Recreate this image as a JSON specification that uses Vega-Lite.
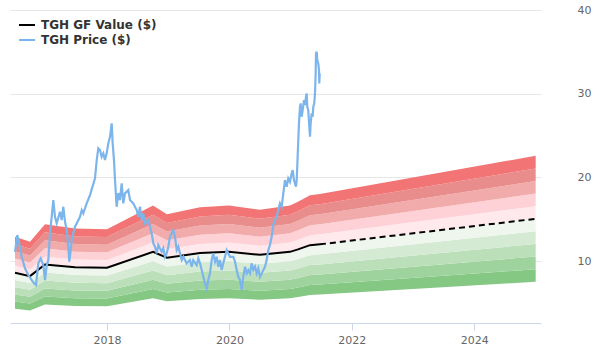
{
  "$schema": "https://vega.github.io/schema/vega-lite/v6.json",
  "width": 531,
  "height": 313,
  "autosize": {"type": "none"},
  "padding": {"left": 10, "top": 10, "right": 59, "bottom": 37},
  "background": "#ffffff",
  "config": {
    "view": {"stroke": null},
    "font": "DejaVu Sans",
    "legend": {"labelFontWeight": "bold", "labelFontSize": 12, "labelColor": "#333333", "labelFont": "DejaVu Sans", "rowPadding": 0, "labelOffset": 5, "symbolStrokeWidth": 2, "symbolSize": 256, "symbolType": "stroke", "padding": 0}
  },
  "datasets": {
    "gf": [
      {"t": 2016.497, "gf": 8.6, "b50": 4.30, "b60": 5.16, "b70": 6.02, "b80": 6.88, "b90": 7.74, "b110": 9.46, "b120": 10.32, "b130": 11.18, "b140": 12.04, "b150": 12.90},
      {"t": 2016.742, "gf": 8.2, "b50": 4.10, "b60": 4.92, "b70": 5.74, "b80": 6.56, "b90": 7.38, "b110": 9.02, "b120": 9.84, "b130": 10.66, "b140": 11.48, "b150": 12.30},
      {"t": 2016.987, "gf": 9.6, "b50": 4.80, "b60": 5.76, "b70": 6.72, "b80": 7.68, "b90": 8.64, "b110": 10.56, "b120": 11.52, "b130": 12.48, "b140": 13.44, "b150": 14.40},
      {"t": 2017.477, "gf": 9.25, "b50": 4.63, "b60": 5.55, "b70": 6.48, "b80": 7.40, "b90": 8.33, "b110": 10.18, "b120": 11.10, "b130": 12.03, "b140": 12.95, "b150": 13.88},
      {"t": 2018.0, "gf": 9.2, "b50": 4.60, "b60": 5.52, "b70": 6.44, "b80": 7.36, "b90": 8.28, "b110": 10.12, "b120": 11.04, "b130": 11.96, "b140": 12.88, "b150": 13.80},
      {"t": 2018.752, "gf": 11.1, "b50": 5.55, "b60": 6.66, "b70": 7.77, "b80": 8.88, "b90": 9.99, "b110": 12.21, "b120": 13.32, "b130": 14.43, "b140": 15.54, "b150": 16.65},
      {"t": 2018.98, "gf": 10.4, "b50": 5.20, "b60": 6.24, "b70": 7.28, "b80": 8.32, "b90": 9.36, "b110": 11.44, "b120": 12.48, "b130": 13.52, "b140": 14.56, "b150": 15.60},
      {"t": 2019.52, "gf": 10.95, "b50": 5.48, "b60": 6.57, "b70": 7.67, "b80": 8.76, "b90": 9.86, "b110": 12.05, "b120": 13.14, "b130": 14.24, "b140": 15.33, "b150": 16.43},
      {"t": 2019.993, "gf": 11.1, "b50": 5.55, "b60": 6.66, "b70": 7.77, "b80": 8.88, "b90": 9.99, "b110": 12.21, "b120": 13.32, "b130": 14.43, "b140": 15.54, "b150": 16.65},
      {"t": 2020.5, "gf": 10.75, "b50": 5.38, "b60": 6.45, "b70": 7.53, "b80": 8.60, "b90": 9.68, "b110": 11.83, "b120": 12.90, "b130": 13.98, "b140": 15.05, "b150": 16.13},
      {"t": 2020.99, "gf": 11.1, "b50": 5.55, "b60": 6.66, "b70": 7.77, "b80": 8.88, "b90": 9.99, "b110": 12.21, "b120": 13.32, "b130": 14.43, "b140": 15.54, "b150": 16.65},
      {"t": 2021.121, "gf": 11.4, "b50": 5.70, "b60": 6.84, "b70": 7.98, "b80": 9.12, "b90": 10.26, "b110": 12.54, "b120": 13.68, "b130": 14.82, "b140": 15.96, "b150": 17.10},
      {"t": 2021.317, "gf": 11.9, "b50": 5.95, "b60": 7.14, "b70": 8.33, "b80": 9.52, "b90": 10.71, "b110": 13.09, "b120": 14.28, "b130": 15.47, "b140": 16.66, "b150": 17.85},
      {"t": 2021.48, "gf": 12.0, "b50": 6.00, "b60": 7.20, "b70": 8.40, "b80": 9.60, "b90": 10.80, "b110": 13.20, "b120": 14.40, "b130": 15.60, "b140": 16.80, "b150": 18.00},
      {"t": 2025.005, "gf": 15.05, "b50": 7.53, "b60": 9.03, "b70": 10.54, "b80": 12.04, "b90": 13.55, "b110": 16.56, "b120": 18.06, "b130": 19.57, "b140": 21.07, "b150": 22.58}
    ],
    "price": [
      {"t": 2016.497, "p": 11.11}, {"t": 2016.534, "p": 13.11}, {"t": 2016.578, "p": 11.71}, {"t": 2016.606, "p": 10.51},
      {"t": 2016.660, "p": 9.13}, {"t": 2016.714, "p": 8.33}, {"t": 2016.770, "p": 7.73}, {"t": 2016.807, "p": 7.34},
      {"t": 2016.840, "p": 7.13}, {"t": 2016.877, "p": 9.73}, {"t": 2016.917, "p": 10.32}, {"t": 2016.959, "p": 9.52},
      {"t": 2016.987, "p": 7.73}, {"t": 2017.015, "p": 9.52}, {"t": 2017.041, "p": 10.12}, {"t": 2017.069, "p": 13.31},
      {"t": 2017.096, "p": 15.29}, {"t": 2017.123, "p": 17.29}, {"t": 2017.150, "p": 15.29}, {"t": 2017.178, "p": 14.50},
      {"t": 2017.232, "p": 15.89}, {"t": 2017.260, "p": 14.90}, {"t": 2017.286, "p": 16.49}, {"t": 2017.314, "p": 14.70},
      {"t": 2017.342, "p": 13.70}, {"t": 2017.368, "p": 11.71}, {"t": 2017.384, "p": 9.92}, {"t": 2017.407, "p": 11.31},
      {"t": 2017.423, "p": 12.51}, {"t": 2017.449, "p": 13.31}, {"t": 2017.477, "p": 14.10}, {"t": 2017.505, "p": 14.50},
      {"t": 2017.559, "p": 15.29}, {"t": 2017.587, "p": 16.09}, {"t": 2017.613, "p": 15.70}, {"t": 2017.668, "p": 16.89},
      {"t": 2017.722, "p": 17.89}, {"t": 2017.776, "p": 19.20}, {"t": 2017.804, "p": 19.88}, {"t": 2017.832, "p": 22.07},
      {"t": 2017.858, "p": 23.46}, {"t": 2017.886, "p": 23.26}, {"t": 2017.913, "p": 22.46}, {"t": 2017.940, "p": 22.87},
      {"t": 2017.967, "p": 22.07}, {"t": 2017.995, "p": 22.87}, {"t": 2018.021, "p": 24.06}, {"t": 2018.049, "p": 24.85},
      {"t": 2018.077, "p": 26.45}, {"t": 2018.093, "p": 24.06}, {"t": 2018.114, "p": 22.07}, {"t": 2018.131, "p": 19.68},
      {"t": 2018.158, "p": 16.49}, {"t": 2018.185, "p": 18.12}, {"t": 2018.212, "p": 17.29}, {"t": 2018.240, "p": 19.28},
      {"t": 2018.266, "p": 16.89}, {"t": 2018.294, "p": 18.09}, {"t": 2018.348, "p": 18.48}, {"t": 2018.376, "p": 17.29},
      {"t": 2018.430, "p": 16.89}, {"t": 2018.485, "p": 16.09}, {"t": 2018.511, "p": 15.29}, {"t": 2018.539, "p": 16.49},
      {"t": 2018.567, "p": 14.90}, {"t": 2018.593, "p": 15.70}, {"t": 2018.621, "p": 14.50}, {"t": 2018.675, "p": 14.90},
      {"t": 2018.703, "p": 14.10}, {"t": 2018.730, "p": 13.31}, {"t": 2018.757, "p": 12.11}, {"t": 2018.784, "p": 11.71},
      {"t": 2018.812, "p": 10.92}, {"t": 2018.838, "p": 11.91}, {"t": 2018.894, "p": 11.11}, {"t": 2018.920, "p": 11.52},
      {"t": 2018.948, "p": 10.51}, {"t": 2018.975, "p": 10.92}, {"t": 2019.002, "p": 11.71}, {"t": 2019.029, "p": 12.90},
      {"t": 2019.057, "p": 13.31}, {"t": 2019.083, "p": 13.70}, {"t": 2019.111, "p": 12.90}, {"t": 2019.139, "p": 11.31},
      {"t": 2019.165, "p": 11.71}, {"t": 2019.193, "p": 10.92}, {"t": 2019.221, "p": 10.12}, {"t": 2019.247, "p": 10.51},
      {"t": 2019.302, "p": 9.73}, {"t": 2019.356, "p": 10.12}, {"t": 2019.384, "p": 9.32}, {"t": 2019.410, "p": 10.12},
      {"t": 2019.466, "p": 9.52}, {"t": 2019.492, "p": 10.32}, {"t": 2019.520, "p": 9.73}, {"t": 2019.547, "p": 8.92},
      {"t": 2019.574, "p": 8.12}, {"t": 2019.601, "p": 7.34}, {"t": 2019.629, "p": 6.74}, {"t": 2019.655, "p": 7.73},
      {"t": 2019.683, "p": 8.53}, {"t": 2019.711, "p": 10.12}, {"t": 2019.737, "p": 10.92}, {"t": 2019.765, "p": 9.92},
      {"t": 2019.792, "p": 10.51}, {"t": 2019.819, "p": 9.32}, {"t": 2019.846, "p": 10.12}, {"t": 2019.874, "p": 8.92},
      {"t": 2019.900, "p": 9.73}, {"t": 2019.928, "p": 10.51}, {"t": 2019.956, "p": 11.31}, {"t": 2019.982, "p": 10.92},
      {"t": 2020.010, "p": 10.51}, {"t": 2020.064, "p": 10.51}, {"t": 2020.092, "p": 9.92}, {"t": 2020.119, "p": 8.92},
      {"t": 2020.145, "p": 8.12}, {"t": 2020.173, "p": 7.73}, {"t": 2020.201, "p": 6.54}, {"t": 2020.227, "p": 8.12},
      {"t": 2020.255, "p": 9.32}, {"t": 2020.283, "p": 8.53}, {"t": 2020.309, "p": 8.92}, {"t": 2020.337, "p": 8.53},
      {"t": 2020.364, "p": 9.73}, {"t": 2020.391, "p": 8.92}, {"t": 2020.418, "p": 9.32}, {"t": 2020.446, "p": 8.53},
      {"t": 2020.472, "p": 9.13}, {"t": 2020.500, "p": 8.12}, {"t": 2020.528, "p": 8.53}, {"t": 2020.554, "p": 8.92},
      {"t": 2020.582, "p": 9.32}, {"t": 2020.609, "p": 10.12}, {"t": 2020.636, "p": 11.31}, {"t": 2020.663, "p": 11.91},
      {"t": 2020.691, "p": 12.90}, {"t": 2020.717, "p": 14.30}, {"t": 2020.745, "p": 14.90}, {"t": 2020.773, "p": 15.29},
      {"t": 2020.799, "p": 16.09}, {"t": 2020.827, "p": 16.89}, {"t": 2020.855, "p": 16.49}, {"t": 2020.881, "p": 18.09},
      {"t": 2020.908, "p": 19.68}, {"t": 2020.936, "p": 18.88}, {"t": 2020.962, "p": 19.88}, {"t": 2020.990, "p": 19.47},
      {"t": 2021.018, "p": 20.48}, {"t": 2021.034, "p": 20.87}, {"t": 2021.056, "p": 19.68}, {"t": 2021.072, "p": 19.28},
      {"t": 2021.088, "p": 18.88}, {"t": 2021.100, "p": 19.68}, {"t": 2021.109, "p": 21.27}, {"t": 2021.126, "p": 24.46},
      {"t": 2021.137, "p": 26.45}, {"t": 2021.154, "p": 28.44}, {"t": 2021.165, "p": 28.84}, {"t": 2021.181, "p": 27.24},
      {"t": 2021.198, "p": 28.04}, {"t": 2021.219, "p": 29.24}, {"t": 2021.235, "p": 28.64}, {"t": 2021.252, "p": 29.63},
      {"t": 2021.263, "p": 30.04}, {"t": 2021.273, "p": 28.44}, {"t": 2021.289, "p": 28.04}, {"t": 2021.306, "p": 26.05},
      {"t": 2021.317, "p": 24.85}, {"t": 2021.328, "p": 26.45}, {"t": 2021.345, "p": 27.65}, {"t": 2021.361, "p": 27.24},
      {"t": 2021.371, "p": 28.44}, {"t": 2021.387, "p": 28.84}, {"t": 2021.399, "p": 30.04}, {"t": 2021.410, "p": 32.43},
      {"t": 2021.415, "p": 34.82}, {"t": 2021.427, "p": 35.01}, {"t": 2021.436, "p": 34.01}, {"t": 2021.453, "p": 33.62},
      {"t": 2021.464, "p": 32.82}, {"t": 2021.469, "p": 31.23}, {"t": 2021.476, "p": 32.43}
    ]
  },
  "encoding": {
    "x": {
      "field": "t", "type": "quantitative",
      "scale": {"domain": [2016.415, 2025.092], "nice": false, "zero": false},
      "axis": {"title": null, "values": [2018, 2020, 2022, 2024], "format": "d", "grid": false,
               "domainColor": "#ccd6eb", "tickColor": "#ccd6eb", "tickSize": 7,
               "labelColor": "#666666", "labelFontSize": 11, "labelPadding": 4}
    }
  },
  "layer": [
    {
      "data": {"name": "gf"},
      "mark": {"type": "area", "color": "#84c884"},
      "encoding": {
        "y": {"field": "b50", "type": "quantitative", "title": null,
              "scale": {"domain": [2.6, 40], "nice": false, "zero": false},
              "axis": {"orient": "right", "values": [10, 20, 30, 40], "grid": true, "gridColor": "#e6e6e6",
                       "domain": false, "ticks": false, "labelPadding": 36, "labelColor": "#666666",
                       "labelFontSize": 11, "title": null}},
        "y2": {"field": "b60"}
      }
    },
    {"data": {"name": "gf"}, "mark": {"type": "area", "color": "#9ed39e"},
     "encoding": {"y": {"field": "b60", "type": "quantitative", "title": null}, "y2": {"field": "b70"}}},
    {"data": {"name": "gf"}, "mark": {"type": "area", "color": "#badfb9"},
     "encoding": {"y": {"field": "b70", "type": "quantitative", "title": null}, "y2": {"field": "b80"}}},
    {"data": {"name": "gf"}, "mark": {"type": "area", "color": "#d4ead3"},
     "encoding": {"y": {"field": "b80", "type": "quantitative", "title": null}, "y2": {"field": "b90"}}},
    {"data": {"name": "gf"}, "mark": {"type": "area", "color": "#eef6ed"},
     "encoding": {"y": {"field": "b90", "type": "quantitative", "title": null}, "y2": {"field": "gf"}}},
    {"data": {"name": "gf"}, "mark": {"type": "area", "color": "#ffe9ec"},
     "encoding": {"y": {"field": "gf", "type": "quantitative", "title": null}, "y2": {"field": "b110"}}},
    {"data": {"name": "gf"}, "mark": {"type": "area", "color": "#fdd1d6"},
     "encoding": {"y": {"field": "b110", "type": "quantitative", "title": null}, "y2": {"field": "b120"}}},
    {"data": {"name": "gf"}, "mark": {"type": "area", "color": "#f2abab"},
     "encoding": {"y": {"field": "b120", "type": "quantitative", "title": null}, "y2": {"field": "b130"}}},
    {"data": {"name": "gf"}, "mark": {"type": "area", "color": "#e98c8c"},
     "encoding": {"y": {"field": "b130", "type": "quantitative", "title": null}, "y2": {"field": "b140"}}},
    {"data": {"name": "gf"}, "mark": {"type": "area", "color": "#f27474"},
     "encoding": {"y": {"field": "b140", "type": "quantitative", "title": null}, "y2": {"field": "b150"}}},
    {
      "data": {"name": "gf"},
      "transform": [{"filter": "datum.t >= 2021.47"}],
      "mark": {"type": "line", "stroke": "#000000", "strokeWidth": 2, "strokeDash": [6, 4]},
      "encoding": {"y": {"field": "gf", "type": "quantitative", "title": null}}
    },
    {
      "data": {"name": "gf"},
      "transform": [{"filter": "datum.t <= 2021.49"}],
      "mark": {"type": "line", "strokeWidth": 2},
      "encoding": {
        "y": {"field": "gf", "type": "quantitative", "title": null},
        "color": {
          "datum": "TGH GF Value ($)",
          "scale": {"domain": ["TGH GF Value ($)", "TGH Price ($)"], "range": ["#000000", "#7cb5ec"]},
          "legend": {"orient": "none", "legendX": 8, "legendY": 6, "title": null, "labelFontWeight": "bold"}
        }
      }
    },
    {
      "data": {"name": "price"},
      "mark": {"type": "line", "strokeWidth": 2.2},
      "encoding": {
        "y": {"field": "p", "type": "quantitative", "title": null},
        "color": {"datum": "TGH Price ($)", "legend": {"orient": "none", "legendX": 8, "legendY": 6, "title": null, "labelFontWeight": "bold"}}
      }
    }
  ]
}
